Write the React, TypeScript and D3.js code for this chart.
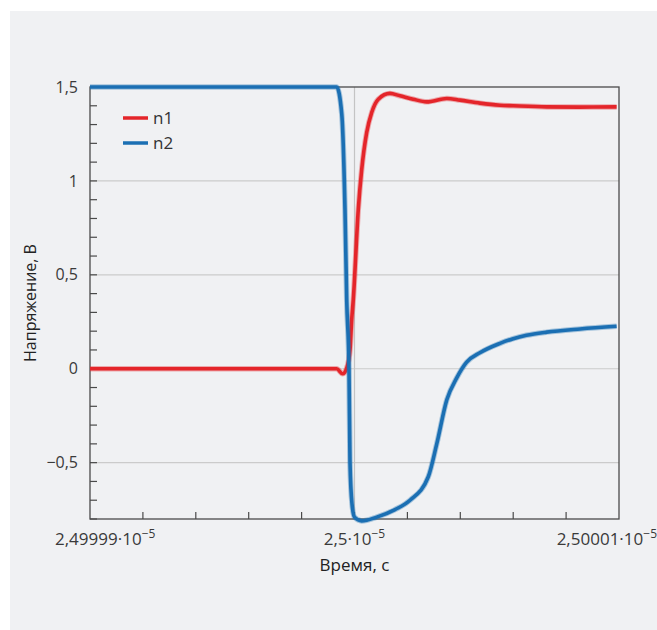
import { useEffect, useRef } from 'react'
import * as d3 from 'd3'

// time in units of 1e-10 s relative to 2.5e-5 s
const N1_T = [-1, -0.0673, -0.0446, -0.0295, -0.017, -0.0106, -0.0045, 0.0144, 0.0272, 0.0461, 0.065, 0.09, 0.134, 0.172, 0.222, 0.273, 0.349, 0.399, 0.474, 0.55, 0.6, 0.727, 0.85, 0.991]
const N1_V = [0, 0, -0.027, 0.003, 0.1, 0.26, 0.37, 0.85, 1.06, 1.258, 1.364, 1.435, 1.466, 1.453, 1.435, 1.421, 1.439, 1.43, 1.414, 1.403, 1.4, 1.394, 1.393, 1.394]

const N2_T = [-1, -0.0673, -0.0484, -0.036, -0.0295, -0.0208, -0.017, -0.0094, 0, 0.0272, 0.0839, 0.153, 0.2098, 0.279, 0.311, 0.349, 0.386, 0.424, 0.474, 0.55, 0.6, 0.65, 0.727, 0.853, 0.991]
const N2_V = [1.5, 1.5, 1.36, 0.85, 0.37, 0, -0.5, -0.72, -0.79, -0.81, -0.79, -0.75, -0.7, -0.575, -0.4, -0.165, -0.05, 0.035, 0.085, 0.135, 0.16, 0.178, 0.195, 0.212, 0.226]

const SERIES = [
  { name: 'n1', color: '#e4252a', t: N1_T, v: N1_V },
  { name: 'n2', color: '#1b6fb3', t: N2_T, v: N2_V },
]

const Y_LABELS = [
  { v: 1.5, text: '1,5' },
  { v: 1, text: '1' },
  { v: 0.5, text: '0,5' },
  { v: 0, text: '0' },
  { v: -0.5, text: '\u22120,5' },
]
const X_LABELS = [
  { t: -1, base: '2,49999·10', anchor: 'start', dx: -35 },
  { t: 0, base: '2,5·10', anchor: 'middle', dx: 0 },
  { t: 1, base: '2,50001·10', anchor: 'end', dx: 38 },
]

const W = 657, H = 630
const FONT = '"Open Sans", "Noto Sans", sans-serif'

export default function App() {
  const ref = useRef<SVGSVGElement>(null)

  useEffect(() => {
    const svg = d3.select(ref.current)
    svg.selectAll('*').remove()

    svg.append('rect').attr('x', 10).attr('y', 11).attr('width', W - 10).attr('height', H - 11).attr('fill', '#f0f1f3')

    const x = d3.scaleLinear().domain([-1, 1]).range([90, 619])
    const y = d3.scaleLinear().domain([-0.8, 1.5]).range([519, 87])

    // grid
    const g = svg.append('g')
    ;[1, 0.5, 0, -0.5].forEach(v => {
      g.append('line').attr('x1', x(-1)).attr('x2', x(1)).attr('y1', y(v)).attr('y2', y(v))
        .attr('stroke', '#cbcbcb').attr('stroke-width', 1.2)
    })
    g.append('line').attr('x1', x(0)).attr('x2', x(0)).attr('y1', y(1.5)).attr('y2', y(-0.8))
      .attr('stroke', '#c4c4c4').attr('stroke-width', 1.2)

    // frame
    g.append('rect').attr('x', x(-1)).attr('y', y(1.5)).attr('width', x(1) - x(-1)).attr('height', y(-0.8) - y(1.5))
      .attr('fill', 'none').attr('stroke', '#4a4a4a').attr('stroke-width', 1.3)

    // minor ticks
    d3.range(-8, 16).map(i => i / 10).forEach(v => {
      g.append('line').attr('x1', x(-1)).attr('x2', x(-1) + 7).attr('y1', y(v)).attr('y2', y(v))
        .attr('stroke', '#4a4a4a').attr('stroke-width', 1.2)
    })
    d3.range(-4, 5).map(i => i / 5).forEach(t => {
      g.append('line').attr('x1', x(t)).attr('x2', x(t)).attr('y1', y(-0.8)).attr('y2', y(-0.8) - 7)
        .attr('stroke', '#4a4a4a').attr('stroke-width', 1.2)
    })

    // labels
    Y_LABELS.forEach(d => {
      svg.append('text').attr('x', 78).attr('y', y(d.v)).attr('dy', '0.35em').attr('text-anchor', 'end')
        .attr('font-family', FONT).attr('font-size', 16).attr('fill', '#3a3a3a').text(d.text)
    })
    X_LABELS.forEach(d => {
      const t = svg.append('text').attr('x', x(d.t) + d.dx).attr('y', 545).attr('text-anchor', d.anchor)
        .attr('font-family', FONT).attr('font-size', 17).attr('fill', '#3a3a3a')
      t.append('tspan').text(d.base)
      t.append('tspan').attr('dy', -7).attr('font-size', 12).text('\u22125')
    })
    svg.append('text').attr('x', x(0)).attr('y', 571).attr('text-anchor', 'middle')
      .attr('font-family', FONT).attr('font-size', 17).attr('fill', '#222').text('Время, с')
    svg.append('text').attr('transform', `translate(36,${(y(1.5) + y(-0.8)) / 2}) rotate(-90)`).attr('text-anchor', 'middle')
      .attr('font-family', FONT).attr('font-size', 16).attr('fill', '#222').text('Напряжение, В')

    // lines
    const line = d3.line<[number, number]>().x(d => x(d[0])).y(d => y(d[1])).curve(d3.curveMonotoneX)
    SERIES.forEach(s => {
      const pts = s.t.map((t, i) => [t, s.v[i]] as [number, number])
      svg.append('path').attr('d', line(pts)).attr('fill', 'none').attr('stroke', s.color)
        .attr('stroke-width', 5.5).attr('stroke-opacity', 0.35).attr('stroke-linejoin', 'round')
      svg.append('path').attr('d', line(pts)).attr('fill', 'none').attr('stroke', s.color)
        .attr('stroke-width', 3.6).attr('stroke-linejoin', 'round')
    })

    // legend
    SERIES.forEach((s, i) => {
      const ly = 118 + i * 25
      svg.append('line').attr('x1', 123).attr('x2', 148).attr('y1', ly).attr('y2', ly)
        .attr('stroke', s.color).attr('stroke-width', 3.5)
      svg.append('text').attr('x', 153).attr('y', ly).attr('dy', '0.38em')
        .attr('font-family', FONT).attr('font-size', 17).attr('fill', '#333').text(s.name)
    })
  }, [])

  return <svg ref={ref} width={W} height={H} style={{ position: 'absolute', left: 0, top: 0, background: '#fff' }} />
}
